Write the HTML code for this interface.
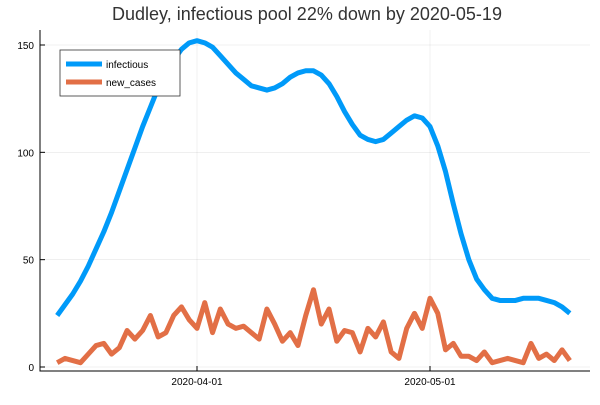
<!DOCTYPE html>
<html><head><meta charset="utf-8"><style>
body{margin:0;background:#fff;font-family:"Liberation Sans",sans-serif}
</style></head><body>
<svg id="c" width="600" height="400" xmlns="http://www.w3.org/2000/svg">
<text x="307" y="20" text-anchor="middle" font-size="18" fill="#333">Dudley, infectious pool 22% down by 2020-05-19</text>
<g id="grid"></g>
<g id="series"></g>
<g id="axes"></g>
<g>
<rect x="60" y="50" width="120" height="46" fill="#fff" stroke="#333" stroke-width="0.8"/>
<line x1="66" y1="64" x2="102" y2="64" stroke="#009af9" stroke-width="5"/>
<text x="106" y="68" font-size="10" fill="#000">infectious</text>
<line x1="66" y1="82" x2="102" y2="82" stroke="#e26f46" stroke-width="5"/>
<text x="106" y="86" font-size="10" fill="#000">new_cases</text>
</g>
</svg>
<script>
const days=[];for(let d=-18;d<=48;d++)days.push(d);
const infectious=[24,29,34,40,47,55,63,72,82,92,102,112,121,130,137,143,148,151,152,151,149,145,141,137,134,131,130,129,130,132,135,137,138,138,136,132,126,119,113,108,106,105,106,109,112,115,117,116,112,103,91,76,62,50,41,36,32,31,31,31,32,32,32,31,30,28,25];
const newCases=[2,4,3,2,6,10,11,6,9,17,13,17,24,14,16,24,28,22,18,30,16,27,20,18,19,16,13,27,20,12,16,10,24,36,20,27,12,17,16,7,18,14,21,7,4,18,25,18,32,25,8,11,5,5,3,7,2,3,4,3,2,11,4,6,3,8,3];
const yTicks=[0,50,100,150];
const xTicks=[{d:0,l:"2020-04-01"},{d:30,l:"2020-05-01"}];
const X=d=>197+d*(233/30);
const Y=v=>367-v*(322/150);
const ns="http://www.w3.org/2000/svg";
function mk(t,a,p){const e=document.createElementNS(ns,t);for(const k in a)e.setAttribute(k,a[k]);p.appendChild(e);return e;}
const g=document.getElementById('grid'),s=document.getElementById('series'),ax=document.getElementById('axes');
const L=40,R=590,T=30,B=371;
yTicks.forEach(v=>{const l=mk('line',{x1:L,x2:R,y1:Y(v),y2:Y(v),stroke:'#000','stroke-opacity':0.1,'stroke-width':0.6},g);


const t=mk('text',{x:L-6,y:Y(v)+4,'text-anchor':'end','font-size':10,fill:'#000'},ax);t.textContent=v;


mk('line',{x1:L,x2:L+5,y1:Y(v),y2:Y(v),stroke:'#000'},ax);});
xTicks.forEach(o=>{const l=mk('line',{x1:X(o.d),x2:X(o.d),y1:T,y2:B,stroke:'#000','stroke-opacity':0.1,'stroke-width':0.6},g);


const t=mk('text',{x:X(o.d),y:B+14,'text-anchor':'middle','font-size':10,fill:'#000'},ax);t.textContent=o.l;


mk('line',{x1:X(o.d),x2:X(o.d),y1:B,y2:B-5,stroke:'#000'},ax);});
const la=mk('path',{d:`M${L} ${T}V${B}H${R}`,fill:'none',stroke:'#000','stroke-width':1},ax);


function line(vals,col,name){const p=mk('polyline',{points:vals.map((v,i)=>X(days[i])+','+Y(v)).join(' '),fill:'none',stroke:col,'stroke-width':5,'stroke-linejoin':'round'},s);

}
line(infectious,'#009af9','infectious-line');
line(newCases,'#e26f46','new-cases-line');
</script>
</body></html>
